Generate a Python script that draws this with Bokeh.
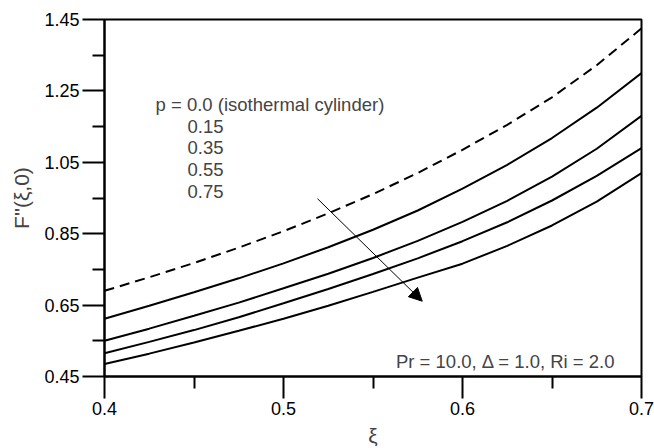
from bokeh.plotting import figure
from bokeh.models import Range1d, Label, Arrow, NormalHead, FixedTicker, PrintfTickFormatter
from bokeh.embed import file_html
from bokeh.resources import INLINE

# ---- data ----
xi = [0.4, 0.425, 0.45, 0.475, 0.5, 0.525, 0.55, 0.575, 0.6, 0.625, 0.65, 0.675, 0.7]
f_p000 = [0.690, 0.728, 0.768, 0.811, 0.857, 0.907, 0.961, 1.020, 1.085, 1.155, 1.232, 1.322, 1.425]
f_p015 = [0.612, 0.648, 0.686, 0.725, 0.767, 0.812, 0.861, 0.915, 0.976, 1.043, 1.118, 1.203, 1.300]
f_p035 = [0.550, 0.584, 0.620, 0.657, 0.697, 0.738, 0.782, 0.830, 0.883, 0.942, 1.010, 1.088, 1.180]
f_p055 = [0.515, 0.547, 0.580, 0.616, 0.655, 0.695, 0.737, 0.781, 0.829, 0.882, 0.943, 1.012, 1.090]
f_p075 = [0.485, 0.514, 0.545, 0.578, 0.612, 0.648, 0.687, 0.727, 0.766, 0.816, 0.873, 0.940, 1.020]

x_ticks = [0.4, 0.5, 0.6, 0.7]
x_minor = [0.45, 0.55, 0.65]
y_ticks = [0.45, 0.65, 0.85, 1.05, 1.25, 1.45]
y_minor = [0.55, 0.75, 0.95, 1.15, 1.35]

legend_title = "p = 0.0 (isothermal cylinder)"
legend_values = ["0.15", "0.35", "0.55", "0.75"]
annotation = "Pr = 10.0, \u0394 = 1.0, Ri = 2.0"

FONT = "Liberation Sans"

p = figure(frame_width=537, frame_height=357, output_backend="svg", toolbar_location=None,
           x_range=Range1d(0.4, 0.7), y_range=Range1d(0.45, 1.45),
           min_border_left=104, min_border_right=13, min_border_top=19, min_border_bottom=72)
p.background_fill_color = "white"
p.border_fill_color = "white"
p.outline_line_color = "black"
p.outline_line_width = 2
p.grid.visible = False

p.line(xi, f_p000, line_color="black", line_width=2, line_dash="10 6")
for ys in (f_p015, f_p035, f_p055, f_p075):
    p.line(xi, ys, line_color="black", line_width=2)

for ax in (p.xaxis[0], p.yaxis[0]):
    ax.axis_line_width = 2
    ax.major_tick_line_width = 2
    ax.minor_tick_line_width = 2
    ax.major_tick_in = 0
    ax.minor_tick_in = 0
    ax.major_tick_out = 22
    ax.minor_tick_out = 12
    ax.major_label_text_font = FONT
    ax.major_label_text_font_size = "18px"
    ax.major_label_text_color = "black"
    ax.axis_label_text_font = FONT
    ax.axis_label_text_font_style = "normal"
    ax.axis_label_text_font_size = "21px"
    ax.major_label_standoff = 3

p.xaxis.ticker = FixedTicker(ticks=x_ticks, minor_ticks=x_minor)
p.yaxis.ticker = FixedTicker(ticks=y_ticks, minor_ticks=y_minor)
p.xaxis.formatter = PrintfTickFormatter(format="%.1f")
p.yaxis.formatter = PrintfTickFormatter(format="%.2f")
p.xaxis.axis_label = "\u03be"
p.yaxis.axis_label = "F''(\u03be,0)"
p.xaxis.axis_label_standoff = 6
p.yaxis.axis_label_standoff = 8

# legend text
LEG_SIZE = "18.5px"
p.add_layout(Label(x=0.4285, y=1.2127, text=legend_title, text_font=FONT,
                   text_font_size=LEG_SIZE, text_baseline="middle"))
for i, t in enumerate(legend_values):
    p.add_layout(Label(x=0.4464, y=1.1516 - i * 0.0607, text=t, text_font=FONT,
                       text_font_size=LEG_SIZE, text_baseline="middle"))

p.add_layout(Label(x=0.6855, y=0.4934, text=annotation, text_font=FONT,
                   text_font_size=LEG_SIZE, text_align="right", text_baseline="middle"))

p.add_layout(Arrow(end=NormalHead(size=13, fill_color="black", line_color="black"),
                   x_start=0.519, y_start=0.948, x_end=0.5775, y_end=0.661,
                   line_width=1, line_color="black"))

open("out.html", "w").write(file_html(p, INLINE))
